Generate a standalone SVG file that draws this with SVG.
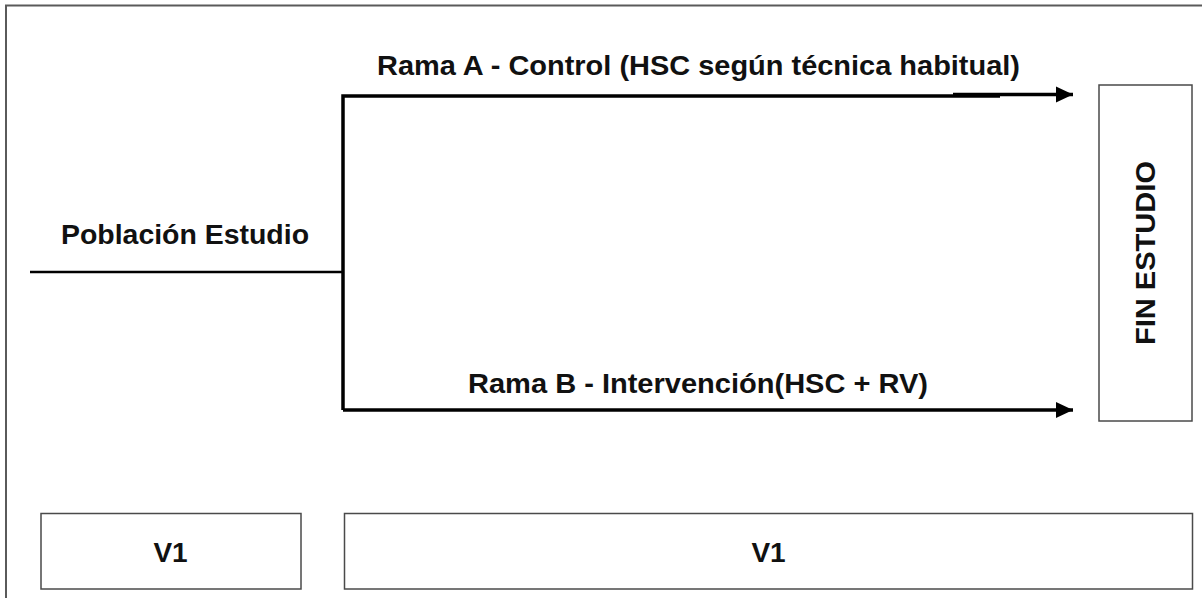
<svg xmlns="http://www.w3.org/2000/svg" width="1202" height="598" viewBox="0 0 1202 598">
<style>
.frame{fill:#fff;stroke:#5a5a5a;stroke-width:2}
.box{fill:#fff;stroke:#4a4a4a;stroke-width:1.5}
.lbl{font-family:"Liberation Sans",Arial,Helvetica,sans-serif;font-weight:bold;font-size:28px;fill:#111}
.conn{fill:none;stroke:#000;stroke-linecap:butt}
</style>
<defs>
<marker id="ah" markerUnits="userSpaceOnUse" markerWidth="18" markerHeight="18" refX="17" refY="9" orient="auto" viewBox="0 0 18 18">
<path d="M0,1 L17,9 L0,17 Z" fill="#000"/>
</marker>
</defs>
<rect x="0" y="0" width="1202" height="598" fill="#fff"/>
<rect class="frame" x="6" y="5.5" width="1210" height="610"/>
<g id="connectors">
<line class="conn" x1="30" y1="272" x2="343" y2="272" stroke-width="2.5"/>
<path class="conn" d="M343,410 V96 H1000" stroke-width="3.5"/>
<line class="conn" x1="953" y1="94.5" x2="1073" y2="94.5" stroke-width="3.5" marker-end="url(#ah)"/>
<line class="conn" x1="343" y1="410" x2="1073" y2="410" stroke-width="3.5" marker-end="url(#ah)"/>
</g>
<g id="label-rama-a">
<text class="lbl" x="377" y="75" textLength="643" lengthAdjust="spacingAndGlyphs">Rama A - Control (HSC según técnica habitual)</text>
</g>
<g id="label-poblacion">
<text class="lbl" x="61" y="244" textLength="248" lengthAdjust="spacingAndGlyphs">Población Estudio</text>
</g>
<g id="label-rama-b">
<text class="lbl" x="468" y="393" textLength="460" lengthAdjust="spacingAndGlyphs">Rama B - Intervención(HSC + RV)</text>
</g>
<g id="fin-estudio">
<rect class="box" x="1099" y="85" width="93" height="336"/>
<text class="lbl" x="0" y="0" text-anchor="middle" transform="translate(1155,253) rotate(-90)" textLength="184" lengthAdjust="spacingAndGlyphs">FIN ESTUDIO</text>
</g>
<g id="v1-a">
<rect class="box" x="41" y="513.5" width="260" height="75.5"/>
<text class="lbl" x="170.5" y="562" text-anchor="middle">V1</text>
</g>
<g id="v1-b">
<rect class="box" x="344.5" y="513.5" width="848" height="75.5"/>
<text class="lbl" x="768.5" y="562" text-anchor="middle">V1</text>
</g>
</svg>
